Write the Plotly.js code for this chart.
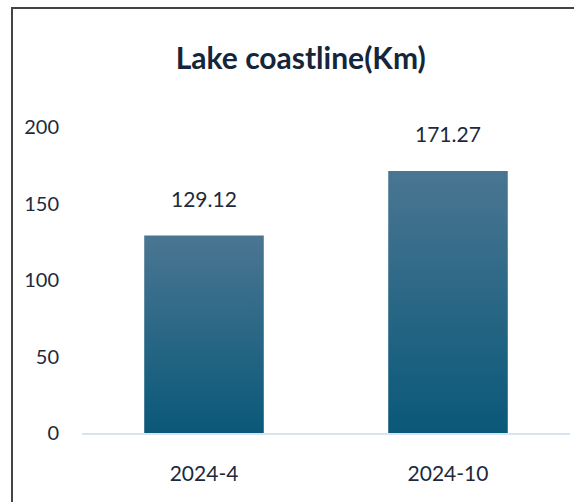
<!DOCTYPE html>
<html>
<head>
<meta charset="utf-8">
<script src="https://cdn.plot.ly/plotly-3.0.1.min.js"></script>
<style>
  html, body { margin: 0; padding: 0; background: #fff; }
  #wrap { position: relative; width: 574px; height: 502px; }
  #frame { position: absolute; left: 11px; top: 7px; width: 570px; height: 500px;
           border-left: 2px solid #444; border-top: 2px solid #444; box-sizing: border-box; pointer-events: none; }
  #chart { position: absolute; left: 0; top: 0; width: 574px; height: 502px; }
</style>
</head>
<body>
<div id="wrap">
  <div id="chart"></div>
  <div id="frame"></div>
</div>
<script>
const categories = ["2024-4", "2024-10"];
const values = [129.12, 171.27];
const labels = ["129.12", "171.27"];
const yTicks = [0, 50, 100, 150, 200];
const chartTitle = "Lake coastline(Km)";

const font = "Lato, 'Open Sans', sans-serif";

const trace = {
  type: "bar",
  x: categories,
  y: values,
  width: 0.49,
  marker: { color: "#2a6887", line: { width: 0 } },
  hoverinfo: "none"
};

const annotations = categories.map((c, i) => ({
  x: c, y: values[i], xref: "x", yref: "y",
  text: labels[i], showarrow: false, yshift: 37,
  font: { family: font, size: 21, color: "#1e2a3a" }
}));

const layout = {
  width: 574, height: 502,
  margin: { l: 82, r: 4, t: 127, b: 69 },
  paper_bgcolor: "#fff", plot_bgcolor: "#fff",
  showlegend: false,
  title: {
    text: "<b>" + chartTitle + "</b>",
    x: 0.524, xanchor: "center", y: 0.884, yanchor: "middle",
    font: { family: font, size: 30, color: "#15263a" }
  },
  xaxis: {
    type: "category",
    range: [-0.5, 1.5],
    showline: true, linecolor: "#d6e4f2", linewidth: 2,
    showgrid: false, zeroline: false, ticks: "",
    ticklabelstandoff: 21,
    tickfont: { family: font, size: 21, color: "#1e2a3a" }
  },
  yaxis: {
    range: [0, 200],
    tickvals: yTicks, ticktext: yTicks.map(String),
    showline: false, showgrid: false, zeroline: false, ticks: "",
    ticklabelstandoff: 22,
    tickfont: { family: font, size: 20, color: "#1e2a3a" }
  },
  annotations: annotations
};

Plotly.newPlot("chart", [trace], layout, { staticPlot: true, displayModeBar: false }).then(gd => {
  const svg = gd.querySelector("svg.main-svg");
  const ns = "http://www.w3.org/2000/svg";
  let defs = svg.querySelector("defs");
  if (!defs) { defs = document.createElementNS(ns, "defs"); svg.insertBefore(defs, svg.firstChild); }
  const grad = document.createElementNS(ns, "linearGradient");
  grad.setAttribute("id", "barGrad");
  grad.setAttribute("x1", "0"); grad.setAttribute("y1", "0");
  grad.setAttribute("x2", "0"); grad.setAttribute("y2", "1");
  const s1 = document.createElementNS(ns, "stop");
  s1.setAttribute("offset", "0"); s1.setAttribute("stop-color", "#4a7692");
  const s2 = document.createElementNS(ns, "stop");
  s2.setAttribute("offset", "1"); s2.setAttribute("stop-color", "#0a5879");
  grad.appendChild(s1); grad.appendChild(s2);
  defs.appendChild(grad);
  gd.querySelectorAll(".bars .point path").forEach(p => {
    p.style.fill = "url(#barGrad)";
  });
});
</script>
</body>
</html>
